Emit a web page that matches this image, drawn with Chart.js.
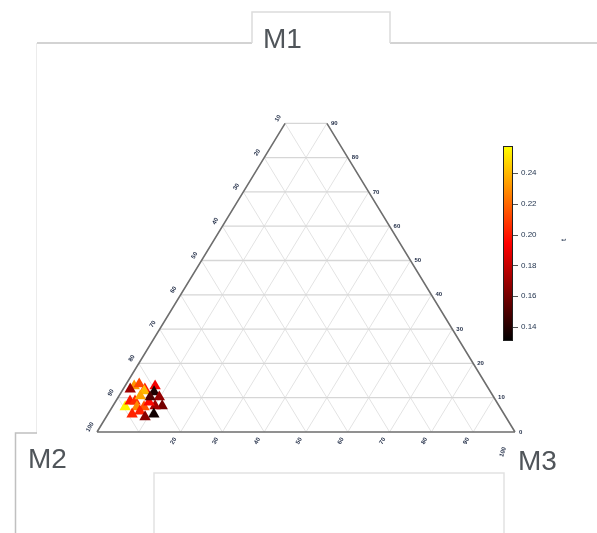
<!DOCTYPE html>
<html><head><meta charset="utf-8">
<script src="https://cdn.jsdelivr.net/npm/chart.js@4.4.1/dist/chart.umd.min.js"></script>
<style>html,body{margin:0;padding:0;background:#fff;}canvas{display:block;}</style>
</head><body>
<canvas id="c" width="597" height="533"></canvas>
<script>
// ---- data (percent) ----
const axisNames = ['M1', 'M2', 'M3'];
const m1 = [13.4, 12.5, 14.0, 12.5, 13.4, 11.7, 12.0, 10.2, 7.6, 7.6, 7.3, 9.0, 9.0, 7.3, 7.3, 8.7, 6.1, 5.2, 4.4, 5.2, 10.2, 10.5];
const m2 = [84.4, 85.8, 82.9, 82.3, 79.4, 80.5, 82.7, 80.0, 80.6, 82.3, 89.6, 87.6, 86.4, 86.8, 85.1, 83.2, 86.7, 83.8, 86.3, 89.0, 82.2, 84.4];
const m3 = [2.2, 1.7, 3.1, 5.2, 7.2, 7.8, 5.3, 9.8, 11.8, 10.1, 3.1, 3.4, 4.6, 5.9, 7.6, 8.1, 7.2, 11.0, 9.3, 5.8, 7.6, 5.1];
const tVals = [0.232, 0.170, 0.212, 0.200, 0.192, 0.138, 0.240, 0.168, 0.160, 0.172, 0.255, 0.200, 0.205, 0.228, 0.215, 0.196, 0.202, 0.135, 0.165, 0.203, 0.150, 0.235];
const gridSteps = [10, 20, 30, 40, 50, 60, 70, 80, 90];
const rightTickVals = [0, 10, 20, 30, 40, 50, 60, 70, 80, 90];       // M1 along right edge
const leftTickVals = [100, 90, 80, 70, 60, 50, 40, 30, 20, 10];      // M2 along left edge
const bottomTickVals = [20, 30, 40, 50, 60, 70, 80, 90, 100];        // M3 along bottom
const cbTicks = [0.14, 0.16, 0.18, 0.20, 0.22, 0.24];
const cMin = 0.131, cMax = 0.2575;
const colorTitle = 't';
const topLimit = 90; // M1 axis max shown

// colorscale
const cscale = [[0, [0, 0, 0]], [0.5, [255, 0, 0]], [1, [255, 255, 0]]];
function colorAt(f) {
  f = Math.max(0, Math.min(1, f));
  for (let i = 1; i < cscale.length; i++) {
    if (f <= cscale[i][0]) {
      const [f0, c0] = cscale[i - 1], [f1, c1] = cscale[i];
      const u = (f - f0) / (f1 - f0);
      const c = c0.map((v, k) => Math.round(v + (c1[k] - v) * u));
      return `rgb(${c[0]},${c[1]},${c[2]})`;
    }
  }
  return 'rgb(255,255,0)';
}
// ternary -> cartesian (a = M1, c = M3, percentages)
function tern(a, c) { return { x: (c + a / 2) / 100, y: a / 100 }; }

const pts = m1.map((a, i) => tern(a, m3[i]));
const ptColors = tVals.map(t => colorAt((t - cMin) / (cMax - cMin)));

// grid lines
const hGrid = [], dGrid = [];
gridSteps.forEach(k => {
  hGrid.push(tern(k, 0), tern(k, 100 - k), { x: null, y: null });
  dGrid.push(tern(0, k), tern(Math.min(100 - k, topLimit), k), { x: null, y: null });      // constant M3
  dGrid.push(tern(0, 100 - k), tern(100 - k, 0), { x: null, y: null });                   // constant M2
});
const edges = [tern(0, 0), tern(topLimit, 0), { x: null, y: null },
               tern(0, 100), tern(topLimit, 100 - topLimit), { x: null, y: null },
               tern(0, 0), tern(0, 100)];

const decor = {
  id: 'decor',
  beforeDraw(chart) {
    const ctx = chart.ctx;
    ctx.save();
    ctx.lineWidth = 1.5;
    ctx.strokeStyle = '#c4c4c4';
    ctx.beginPath(); ctx.moveTo(37, 43); ctx.lineTo(252, 43); ctx.stroke();
    ctx.beginPath(); ctx.moveTo(390, 43); ctx.lineTo(597, 43); ctx.stroke();
    ctx.strokeStyle = '#dcdcdc';
    ctx.beginPath(); ctx.moveTo(252, 43); ctx.lineTo(252, 12); ctx.lineTo(390, 12); ctx.lineTo(390, 43); ctx.stroke();
    ctx.lineWidth = 1;
    ctx.strokeStyle = '#ececec';
    ctx.beginPath(); ctx.moveTo(36.5, 43); ctx.lineTo(36.5, 433); ctx.stroke();
    ctx.lineWidth = 1.5;
    ctx.strokeStyle = '#c0c0c0';
    ctx.beginPath(); ctx.moveTo(37, 433); ctx.lineTo(15.5, 433); ctx.lineTo(15.5, 533); ctx.stroke();
    ctx.strokeStyle = '#e2e2e2';
    ctx.beginPath(); ctx.moveTo(154, 533); ctx.lineTo(154, 473); ctx.lineTo(504, 473); ctx.lineTo(504, 533); ctx.stroke();
    ctx.fillStyle = '#50555a';
    ctx.font = '28px "Liberation Sans", Arial, sans-serif';
    ctx.textBaseline = 'alphabetic';
    ctx.textAlign = 'left';
    ctx.fillText(axisNames[0], 263, 48);
    ctx.fillText(axisNames[1], 28, 468);
    ctx.fillText(axisNames[2], 518, 470);
    ctx.restore();
  },
  afterDraw(chart) {
    const ctx = chart.ctx, xs = chart.scales.x, ys = chart.scales.y;
    const P = p => [xs.getPixelForValue(p.x), ys.getPixelForValue(p.y)];
    ctx.save();
    ctx.fillStyle = '#1e2a44';
    ctx.font = 'bold 6px "Liberation Sans", Arial, sans-serif';
    // right edge (M1)
    ctx.textAlign = 'left'; ctx.textBaseline = 'middle';
    rightTickVals.forEach(v => {
      const [px, py] = P(tern(v, 100 - v));
      ctx.fillText(String(v), px + 4, py);
    });
    // left edge (M2)
    leftTickVals.forEach(v => {
      const a = 100 - v;
      const [px, py] = P(tern(a, 0));
      ctx.save();
      ctx.translate(px - 7, py - 5);
      ctx.rotate(-Math.PI / 3);
      ctx.textAlign = 'center';
      ctx.fillText(String(v), 0, 0);
      ctx.restore();
    });
    // bottom (M3)
    bottomTickVals.forEach(v => {
      const [px, py] = P(tern(0, v));
      ctx.save();
      if (v === 100) { ctx.translate(px - 12, py + 20); ctx.rotate(-Math.PI * 0.4); }
      else { ctx.translate(px - 7, py + 9); ctx.rotate(-Math.PI / 3); }
      ctx.textAlign = 'center';
      ctx.fillText(String(v), 0, 0);
      ctx.restore();
    });
    // colorbar
    const cbL = 503, cbR = 513, cbT = 146, cbB = 341;
    const g = ctx.createLinearGradient(0, cbB, 0, cbT);
    cscale.forEach(([f, c]) => g.addColorStop(f, `rgb(${c[0]},${c[1]},${c[2]})`));
    ctx.fillStyle = g;
    ctx.fillRect(cbL, cbT, cbR - cbL, cbB - cbT);
    ctx.strokeStyle = '#222'; ctx.lineWidth = 1;
    ctx.strokeRect(cbL + 0.5, cbT + 0.5, cbR - cbL - 1, cbB - cbT - 1);
    ctx.font = '8px "Liberation Sans", Arial, sans-serif';
    ctx.fillStyle = '#243650';
    ctx.textAlign = 'left'; ctx.textBaseline = 'middle';
    ctx.strokeStyle = '#555';
    cbTicks.forEach(v => {
      const y = cbB - (v - cMin) / (cMax - cMin) * (cbB - cbT);
      ctx.beginPath(); ctx.moveTo(cbR, Math.round(y) + 0.5); ctx.lineTo(cbR + 5, Math.round(y) + 0.5); ctx.stroke();
      ctx.fillText(v.toFixed(2), cbR + 8, y);
    });
    ctx.save();
    ctx.translate(564, 240); ctx.rotate(-Math.PI / 2);
    ctx.textAlign = 'center';
    ctx.fillText(colorTitle, 0, 0);
    ctx.restore();
    ctx.restore();
  }
};

new Chart(document.getElementById('c'), {
  type: 'scatter',
  data: {
    datasets: [
      { label: 'points', data: pts, pointStyle: 'triangle', pointRadius: 6.6, pointHoverRadius: 6.6,
        backgroundColor: ptColors, borderWidth: 0, order: 0, clip: false },
      { label: 'edges', data: edges, showLine: true, spanGaps: false, borderColor: '#6e6e6e', borderWidth: 1.6,
        pointRadius: 0, order: 1, clip: false },
      { label: 'hgrid', data: hGrid, showLine: true, spanGaps: false, borderColor: '#d6d6d6', borderWidth: 1.3,
        pointRadius: 0, order: 2, clip: false },
      { label: 'dgrid', data: dGrid, showLine: true, spanGaps: false, borderColor: '#e3e3e3', borderWidth: 1,
        pointRadius: 0, order: 3, clip: false }
    ]
  },
  options: {
    responsive: false, animation: false,
    layout: { padding: { left: 97, right: 82, top: 89, bottom: 101 } },
    scales: {
      x: { type: 'linear', min: 0, max: 1, display: false },
      y: { type: 'linear', min: 0, max: 1, display: false }
    },
    plugins: { legend: { display: false }, tooltip: { enabled: false } },
    events: []
  },
  plugins: [decor]
});
</script>
</body></html>
